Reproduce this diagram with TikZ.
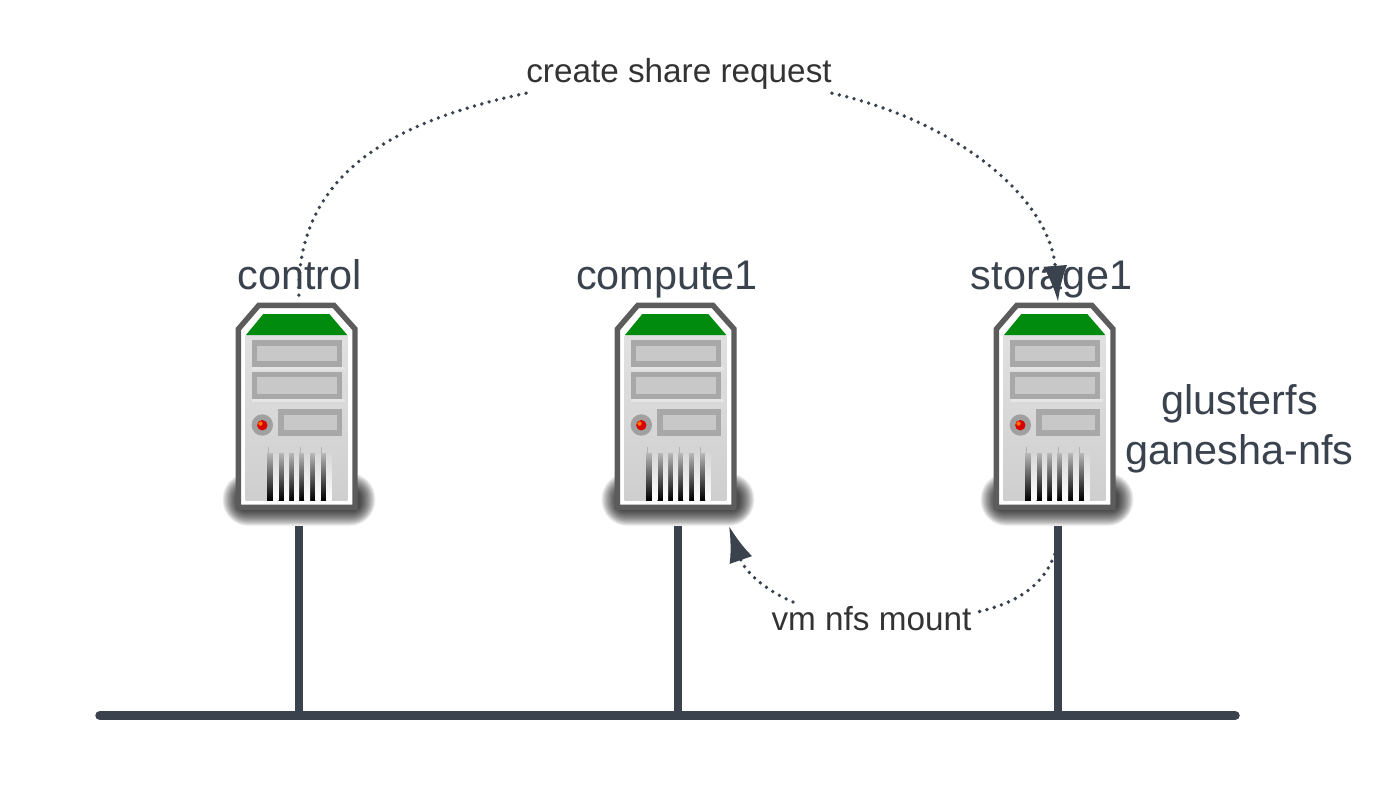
\documentclass[tikz,border=0pt]{standalone}
\usepackage{fontspec}
\setmainfont{Liberation Sans}
\usetikzlibrary{arrows.meta,calc}
\definecolor{ink}{HTML}{3A424E}
\definecolor{txt}{HTML}{333333}
\definecolor{frame}{HTML}{5C5C5C}
\definecolor{bay}{HTML}{A8A8A8}
\definecolor{bayin}{HTML}{C8C8C8}
\definecolor{leaf}{HTML}{008A0E}
\tikzset{
  wire/.style={draw=ink,line width=8.5pt},
  bus/.style={draw=ink,line width=9.5pt,line cap=round},
  dots/.style={draw=ink,line width=3.8pt,line cap=round,dash pattern=on 0pt off 7.6pt},
  request/.style={dots,-{Latex[length=36pt,width=24pt,fill=ink]}},
  big/.style={font=\fontsize{41.4}{41.4}\selectfont,text=ink,inner sep=0pt},
  small/.style={font=\fontsize{33.3}{33.3}\selectfont,text=txt,inner sep=0pt},
  serverbox/.style={minimum width=152pt,minimum height=224pt,inner sep=0pt},
  baybox/.style={fill=bay},
  bayface/.style={fill=bayin}
}
\newcommand{\towerdraw}{%
  % blurred shadow
  \foreach \i in {0,1,...,19}{
    \fill[black,opacity=0.055,rounded corners={max(26-\i,3)*1pt}]
      (222.5+\i*0.8,473+\i*0.9) rectangle (375.5-\i*0.8,526-\i*0.8);
  }
  % case
  \path[draw=frame,fill=white,line width=5.4pt,line join=miter]
    (238.4,329) -- (258.7,305.4) -- (334,305.4) -- (355,329) -- (355,507.3) -- (238.4,507.3) -- cycle;
  \shade[top color=white!88!black,bottom color=white!81!black]
    (245.7,335) rectangle (347.3,500);
  \fill[leaf] (246,335) -- (263.3,314) -- (329.3,314) -- (347.3,335) -- cycle;
  % bays
  \fill[white!90!black] (252,367.3) rectangle (345,370);
  \fill[white!90!black] (252,399.3) rectangle (345,402);
  \fill[baybox] (252,340) rectangle (342,367.3);
  \fill[bayface] (256.7,345.7) rectangle (337.3,361);
  \fill[baybox] (252,372) rectangle (342,399.3);
  \fill[bayface] (256.7,377.3) rectangle (337.3,394);
  \fill[baybox] (278,409) rectangle (342,436);
  \fill[bayface] (283.7,415) rectangle (337.3,430);
  % power button
  \fill[bay!95!black] (262.3,425) circle (10.7pt);
  \fill[red!85!black] (262.3,425.2) circle (5.2pt);
  \fill[orange!90!red] (260.5,423.6) circle (2.2pt);
  % vents
  \foreach \a/\b in {267/273,278.3/284,289/294,299/304.3,310/315.3,320.7/326.3}{
    \shade[top color=white!72!black,middle color=black!60,bottom color=black] (\a,453) rectangle (\b,500);
  }
  \foreach \a/\b in {273/278.3,284/289,294/299,304.3/310,315.3/320.7,326.3/331.3}{
    \shade[top color=white!84!black,bottom color=white] (\a,453) rectangle (\b,500);
  }
  \foreach \a in {267.5,299.5,320.5}{
    \fill[white!70!black] (\a,447) rectangle (\a+0.8,453);
  }
}
\begin{document}
\begin{tikzpicture}[x=1pt,y=-1pt]
\useasboundingbox (0,0) rectangle (1391,795);
\fill[white] (0,0) rectangle (1391,795);

% server artwork
\foreach \dx in {0,379,758}{
  \begin{scope}[shift={(\dx,0)}]
    \towerdraw
  \end{scope}
}
% named server nodes
\node[serverbox] (srv1) at (299,414) {};
\node[serverbox] (srv2) at (678,414) {};
\node[serverbox] (srv3) at (1058,414) {};

% labels
\node[big,anchor=base] (lab1) at (299.5,289) {control};
\node[big,anchor=base] (lab2) at (667,289) {compute1};
\node[big,anchor=base] (lab3) at (1051.5,289) {storage1};
\node[big,anchor=base] (gl) at (1239.5,414) {glusterfs};
\node[big,anchor=base] (ga) at (1239.5,464) {ganesha-nfs};
\node[small,anchor=base,text height=32pt,text depth=11pt] (req) at (679,82) {create share request};
\node[small,anchor=base,text height=30pt,text depth=4pt] (vm) at (871.5,630) {vm nfs mount};

% network
\coordinate (busL) at (100,715.5);
\coordinate (busR) at (1235,715.5);
\coordinate (tap1) at (299,715.5);
\coordinate (tap2) at (678,715.5);
\coordinate (tap3) at (1058,715.5);
\draw[wire] (srv1.south) -- (tap1);
\draw[wire] (srv2.south) -- (tap2);
\draw[wire] (srv3.south) -- (tap3);
\draw[bus] (busL) -- (busR);

% requests
\draw[dots] (req.south west) .. controls (400,120) and (293,170) .. (srv1.north);
\draw[request] (req.south east) .. controls (960,122) and (1050,200) .. (srv3.north);
\coordinate (mountStart) at (1057,547);
\coordinate (mountMid) at (973,613);
\coordinate (mountBack) at (793,602);
\coordinate (mountTip) at (729,526);
\draw[dots] (mountStart) .. controls (1045,590) and (1010,605) .. (mountMid);
\draw[request] (mountBack) .. controls (765,590) and (745,572) .. (mountTip);
\end{tikzpicture}
\end{document}
